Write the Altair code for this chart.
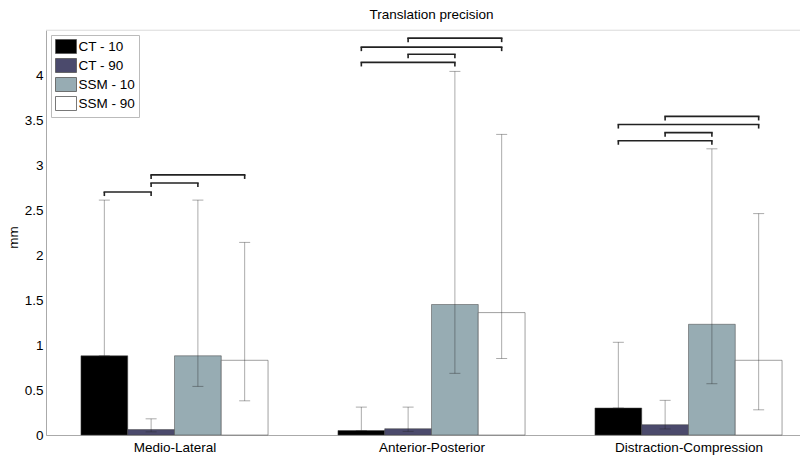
import json
import altair as alt
import pandas as pd

groups = ["Medio-Lateral", "Anterior-Posterior", "Distraction-Compression"]
series = ["CT - 10", "CT - 90", "SSM - 10", "SSM - 90"]
colors = ["#000000", "#4b4a6c", "#97acb3", "#ffffff"]

# per series: values for [Medio-Lateral, Anterior-Posterior, Distraction-Compression]
ct10_mean = [0.88, 0.05, 0.30]
ct90_mean = [0.06, 0.07, 0.115]
ssm10_mean = [0.88, 1.45, 1.23]
ssm90_mean = [0.83, 1.36, 0.83]

ct10_lo = [0.88, 0.05, 0.30]
ct90_lo = [0.035, 0.04, 0.067]
ssm10_lo = [0.54, 0.685, 0.57]
ssm90_lo = [0.38, 0.85, 0.28]

ct10_hi = [2.61, 0.31, 1.03]
ct90_hi = [0.18, 0.31, 0.385]
ssm10_hi = [2.61, 4.04, 3.18]
ssm90_hi = [2.14, 3.34, 2.46]

# significance brackets: group (1-based), from series idx, to series idx, height (mm)
bracket_group = [1, 1, 1, 2, 2, 2, 2, 3, 3, 3, 3]
bracket_from = [0, 1, 1, 0, 1, 0, 1, 0, 1, 0, 1]
bracket_to = [1, 2, 3, 2, 2, 3, 3, 2, 2, 3, 3]
bracket_y = [2.70, 2.80, 2.89, 4.14, 4.23, 4.31, 4.41, 3.27, 3.36, 3.45, 3.54]

means = [ct10_mean, ct90_mean, ssm10_mean, ssm90_mean]
los = [ct10_lo, ct90_lo, ssm10_lo, ssm90_lo]
his = [ct10_hi, ct90_hi, ssm10_hi, ssm90_hi]

rows = []
for s, name in enumerate(series):
    for g in range(len(groups)):
        rows.append({"g": g + 1, "s": s, "series": name,
                     "mean": means[s][g], "lo": los[s][g], "hi": his[s][g]})
bars_df = pd.DataFrame(rows)

br_df = pd.DataFrame({"g": bracket_group, "a": bracket_from,
                      "b": bracket_to, "y": bracket_y})

W = 754
H = 405
BW = 0.182
FONT = "Liberation Sans"
FS = 13.5

xscale = alt.Scale(domain=[0.5, 0.5 + W / 257.0], nice=False, zero=False)
yscale = alt.Scale(domain=[0, 4.5], nice=False, zero=True)

xaxis = alt.Axis(values=[1, 2, 3], title=None, ticks=False, grid=False,
                 labelExpr=json.dumps(groups) + "[datum.value - 1]",
                 labelPadding=5, domainColor="#aaaaaa", labelFontSize=FS,
                 labelFont=FONT, labelColor="#000000")
yaxis = alt.Axis(values=[0, 0.5, 1, 1.5, 2, 2.5, 3, 3.5, 4], format="~g",
                 title="mm", ticks=False, grid=False, labelPadding=3,
                 domainColor="#aaaaaa", labelFontSize=FS,
                 labelFont=FONT, labelColor="#000000",
                 titleFontSize=FS, titleFont=FONT,
                 titleFontWeight="normal", titleColor="#000000",
                 titlePadding=4, titleY=207)

base = alt.Chart(bars_df).transform_calculate(
    c="datum.g + (datum.s - 1.5) * %f" % BW
).transform_calculate(
    x0="datum.c - %f" % (BW / 2), x1="datum.c + %f" % (BW / 2)
)

bars = base.mark_rect(stroke="#444444", strokeWidth=1, strokeOpacity=0.5).encode(
    x=alt.X("x0:Q", scale=xscale, axis=xaxis),
    x2="x1:Q",
    y=alt.Y("mean:Q", scale=yscale, axis=yaxis),
    y2=alt.datum(0),
    color=alt.Color("series:N", scale=alt.Scale(domain=series, range=colors),
                    legend=alt.Legend(
                        title=None, orient="none", legendX=5, legendY=5,
                        symbolType="M-1,-1H2V1H-1Z", symbolSize=196,
                        symbolStrokeColor="#555555", symbolStrokeWidth=0.8,
                        symbolOpacity=1,
                        labelFontSize=FS, labelFont=FONT,
                        labelColor="#000000", labelOffset=8.5,
                        padding=4, rowPadding=0, strokeColor="#bbbbbb",
                        fillColor="#ffffff")),
)

ERR_C = "#222222"
ERR_O = 0.38
err = base.mark_rule(color=ERR_C, strokeOpacity=ERR_O, strokeWidth=1).encode(
    x=alt.X("c:Q", scale=xscale, axis=xaxis),
    y=alt.Y("lo:Q", scale=yscale, axis=yaxis),
    y2="hi:Q",
)
cap_hi = base.mark_tick(orient="horizontal", size=11, thickness=1,
                        color=ERR_C, opacity=ERR_O).encode(
    x=alt.X("c:Q", scale=xscale, axis=xaxis),
    y=alt.Y("hi:Q", scale=yscale, axis=yaxis),
)
cap_lo = base.mark_tick(orient="horizontal", size=11, thickness=1,
                        color=ERR_C, opacity=ERR_O).encode(
    x=alt.X("c:Q", scale=xscale, axis=xaxis),
    y=alt.Y("lo:Q", scale=yscale, axis=yaxis),
)

bbase = alt.Chart(br_df).transform_calculate(
    xa="datum.g + (datum.a - 1.5) * %f" % BW,
    xb="datum.g + (datum.b - 1.5) * %f" % BW,
    yend="datum.y - 0.045",
)
br_h = bbase.mark_rule(color="#222222", strokeWidth=1.6, strokeCap="square").encode(
    x=alt.X("xa:Q", scale=xscale, axis=xaxis),
    x2="xb:Q",
    y=alt.Y("y:Q", scale=yscale, axis=yaxis),
)
br_a = bbase.mark_rule(color="#222222", strokeWidth=1.6).encode(
    x=alt.X("xa:Q", scale=xscale, axis=xaxis),
    y=alt.Y("y:Q", scale=yscale, axis=yaxis),
    y2="yend:Q",
)
br_b = bbase.mark_rule(color="#222222", strokeWidth=1.6).encode(
    x=alt.X("xb:Q", scale=xscale, axis=xaxis),
    y=alt.Y("y:Q", scale=yscale, axis=yaxis),
    y2="yend:Q",
)

top = alt.Chart(pd.DataFrame({"t": [4.5]})).mark_rule(color="#ebebeb").encode(
    y=alt.Y("t:Q", scale=yscale, axis=yaxis), x=alt.value(0), x2=alt.value(W)
)

chart = alt.layer(top, bars, err, cap_hi, cap_lo, br_h, br_a, br_b).properties(
    width=W, height=H,
    title=alt.TitleParams("Translation precision", fontSize=FS,
                          font=FONT, fontWeight="normal",
                          color="#000000", offset=8, dx=8.5),
    autosize=alt.AutoSizeParams(type="none"),
    padding={"left": 38, "top": 22, "right": 0, "bottom": 20},
).configure_view(stroke=None).configure(background="#ffffff")

chart.save("out.html", embed_options={"renderer": "svg", "actions": False})
